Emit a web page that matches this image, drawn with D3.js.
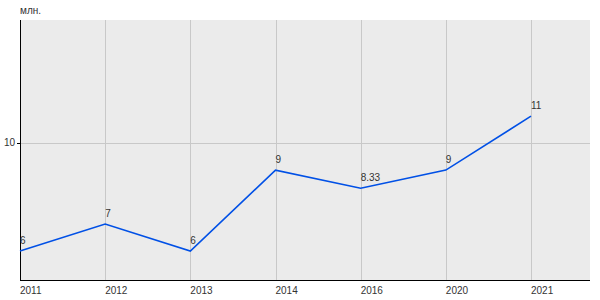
<!DOCTYPE html>
<html>
<head>
<meta charset="utf-8">
<script src="https://cdn.jsdelivr.net/npm/d3@7"></script>
<style>
    body { margin: 0; background: #fff; }
    text { font-family: "Liberation Sans", Arial, sans-serif; }
</style>
</head>
<body>
<div id="content"></div>
<script>
const years = ["2011", "2012", "2013", "2014", "2016", "2020", "2021"];
const values = [6, 7, 6, 9, 8.33, 9, 11];
const valueLabels = ["6", "7", "6", "9", "8.33", "9", "11"];
const yTicks = [10];
const unitLabel = "млн.";

const width = 600, height = 300;
const plotLeft = 20, plotTop = 20, plotRight = 590, plotBottom = 280;

const svg = d3.select("#content")
    .append("svg")
    .attr("width", width)
    .attr("height", height);

const x = d3.scalePoint()
    .domain(years)
    .range([plotLeft, 531]);

const y = d3.scaleLinear()
    .domain([4.93, 14.56])
    .range([plotBottom, plotTop]);

svg.append("rect")
    .attr("x", plotLeft)
    .attr("y", plotTop)
    .attr("width", plotRight - plotLeft)
    .attr("height", plotBottom - plotTop)
    .style("fill", "#ebebeb");

// grid
svg.append("g")
    .selectAll("line")
    .data(years)
    .enter()
    .append("line")
    .attr("x1", d => Math.round(x(d)) + 0.5)
    .attr("x2", d => Math.round(x(d)) + 0.5)
    .attr("y1", plotTop)
    .attr("y2", plotBottom)
    .style("stroke", "#c8c8c8")
    .style("stroke-width", 1);

svg.append("g")
    .selectAll("line")
    .data(yTicks)
    .enter()
    .append("line")
    .attr("x1", plotLeft)
    .attr("x2", plotRight)
    .attr("y1", d => Math.round(y(d)) + 0.5)
    .attr("y2", d => Math.round(y(d)) + 0.5)
    .style("stroke", "#c8c8c8")
    .style("stroke-width", 1);

// axes
svg.append("line")
    .attr("x1", plotLeft + 0.5).attr("x2", plotLeft + 0.5)
    .attr("y1", plotTop).attr("y2", plotBottom)
    .style("stroke", "#000");
svg.append("line")
    .attr("x1", plotLeft).attr("x2", plotRight)
    .attr("y1", plotBottom + 0.5).attr("y2", plotBottom + 0.5)
    .style("stroke", "#000");

svg.append("g")
    .selectAll("line")
    .data(yTicks)
    .enter()
    .append("line")
    .attr("x1", plotLeft - 3)
    .attr("x2", plotLeft)
    .attr("y1", d => Math.round(y(d)) + 0.5)
    .attr("y2", d => Math.round(y(d)) + 0.5)
    .style("stroke", "#000");

svg.append("g")
    .selectAll("text")
    .data(yTicks)
    .enter()
    .append("text")
    .attr("x", plotLeft - 5)
    .attr("y", d => y(d) + 3)
    .attr("text-anchor", "end")
    .style("font-size", "10px")
    .style("fill", "#333")
    .text(d => d);

svg.append("text")
    .attr("x", plotLeft)
    .attr("y", 14)
    .style("font-size", "10px")
    .style("fill", "#333")
    .text(unitLabel);

svg.append("g")
    .selectAll("text")
    .data(years)
    .enter()
    .append("text")
    .attr("x", d => x(d))
    .attr("y", plotBottom + 14)
    .style("font-size", "10px")
    .style("fill", "#333")
    .text(d => d);

// line
const line = d3.line()
    .x((d, i) => x(years[i]))
    .y(d => y(d));

svg.append("path")
    .datum(values)
    .attr("d", line)
    .style("fill", "none")
    .style("stroke", "#0050e6")
    .style("stroke-width", 1.6);

svg.append("g")
    .selectAll("text")
    .data(values)
    .enter()
    .append("text")
    .attr("x", (d, i) => x(years[i]))
    .attr("y", d => y(d) - 7)
    .style("font-size", "10px")
    .style("fill", "#333")
    .text((d, i) => valueLabels[i]);
</script>
</body>
</html>
